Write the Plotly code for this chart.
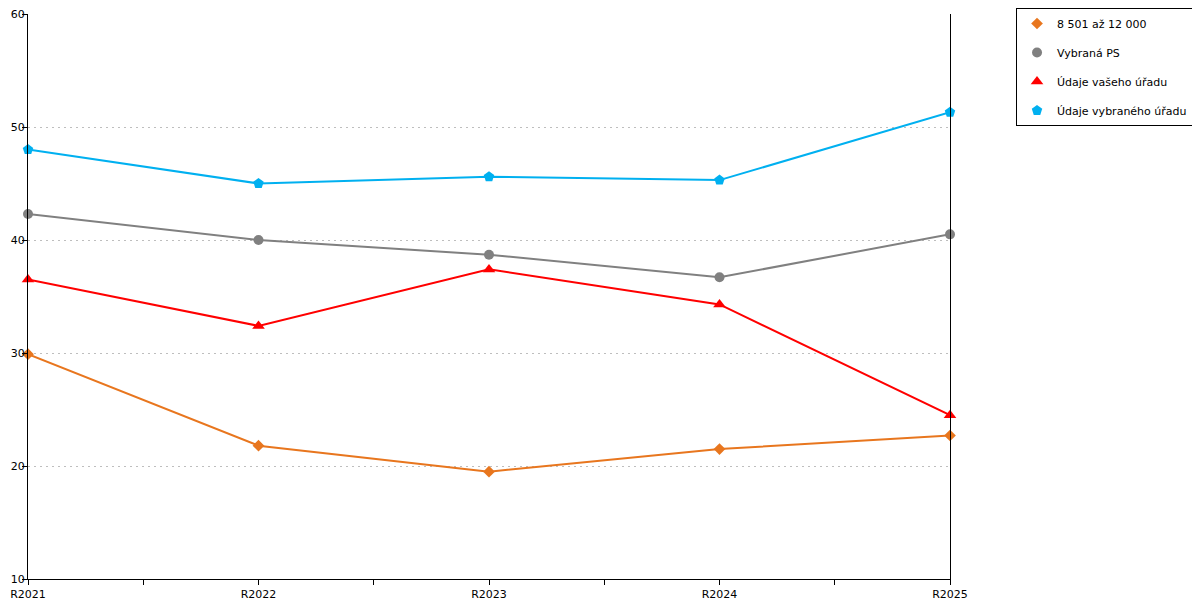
import plotly.graph_objects as go

years = ["R2021", "R2022", "R2023", "R2024", "R2025"]
orange_vals = [29.9, 21.8, 19.5, 21.5, 22.7]
gray_vals = [42.3, 40.0, 38.7, 36.7, 40.5]
red_vals = [36.5, 32.4, 37.4, 34.3, 24.5]
blue_vals = [48.0, 45.0, 45.6, 45.3, 51.3]

series = [
    ("8 501 až 12 000", orange_vals, "#E8761E", "diamond", 9),
    ("Vybraná PS", gray_vals, "#808080", "circle", 10),
    ("Údaje vašeho úřadu", red_vals, "#FF0000", "triangle-up", 11),
    ("Údaje vybraného úřadu", blue_vals, "#00B0F0", "pentagon", 11),
]

xpos = list(range(len(years)))

fig = go.Figure()
for i, (name, vals, color, sym, size) in enumerate(series):
    fig.add_trace(go.Scatter(x=xpos, y=vals, mode="lines", line=dict(color=color, width=2),
                             showlegend=False, cliponaxis=False, hoverinfo="skip"))
    fig.add_trace(go.Scatter(x=xpos, y=vals, mode="markers", name=name, legendgroup=str(i),
                             marker=dict(color=color, symbol=sym, size=size),
                             cliponaxis=False))

# page shows the figure shifted by the 8px body margin, so margins are offset
fig.update_layout(
    width=1200, height=600,
    margin=dict(l=20, r=258, t=6, b=29, autoexpand=False),
    plot_bgcolor="white", paper_bgcolor="white",
    font=dict(family="DejaVu Sans", size=12, color="black"),
    legend=dict(x=1.0716, y=1.0106, xanchor="left", yanchor="top",
                bordercolor="black", borderwidth=1, tracegroupgap=10,
                font=dict(size=11)),
)
fig.update_xaxes(range=[0, 4], tickvals=xpos, ticktext=years, showgrid=False,
                 showline=True, linecolor="black", linewidth=1,
                 ticks="outside", ticklen=5, tickcolor="black",
                 minor=dict(ticks="outside", dtick=0.5, tick0=0, ticklen=5, tickcolor="black"),
                 tickfont=dict(size=11), zeroline=False, automargin=False)
fig.update_yaxes(range=[10, 60], dtick=10, showgrid=True, gridcolor="#BEBEBE", griddash="2px,4px",
                 showline=True, mirror=True, linecolor="black", linewidth=1,
                 ticks="outside", ticklen=5, tickcolor="black", zeroline=False,
                 ticklabelstandoff=-5, ticklabeloverflow="allow",
                 tickfont=dict(size=11), automargin=False)

fig.write_html("out.html")
